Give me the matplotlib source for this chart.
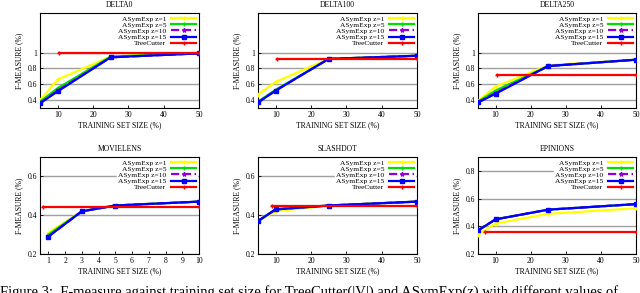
import matplotlib
matplotlib.use('Agg')
import matplotlib.pyplot as plt

plt.rcParams['font.family'] = ['Liberation Serif', 'DejaVu Serif']

# data
titles = ['DELTA0', 'DELTA100', 'DELTA250', 'MOVIELENS', 'SLASHDOT', 'EPINIONS']
labels = ['ASymExp z=1', 'ASymExp z=5', 'ASymExp z=10', 'ASymExp z=15', 'TreeCutter']

x_big = [5, 10, 25, 50]
x_ml = [1, 3, 5, 10]

delta0 = [
    [0.40, 0.66, 0.95, 1.00],
    [0.38, 0.55, 0.95, 0.99],
    [0.36, 0.52, 0.94, 0.99],
    [0.36, 0.51, 0.94, 0.99],
]
delta100 = [
    [0.47, 0.63, 0.92, 0.96],
    [0.38, 0.53, 0.92, 0.96],
    [0.37, 0.52, 0.92, 0.96],
    [0.37, 0.52, 0.92, 0.96],
]
delta250 = [
    [0.39, 0.57, 0.84, 0.91],
    [0.38, 0.52, 0.83, 0.91],
    [0.37, 0.49, 0.83, 0.91],
    [0.37, 0.48, 0.83, 0.91],
]
movielens = [
    [0.31, 0.42, 0.45, 0.47],
    [0.30, 0.42, 0.45, 0.47],
    [0.29, 0.42, 0.45, 0.47],
    [0.29, 0.42, 0.45, 0.47],
]
slashdot = [
    [0.37, 0.42, 0.45, 0.47],
    [0.37, 0.43, 0.45, 0.47],
    [0.37, 0.43, 0.45, 0.47],
    [0.37, 0.43, 0.45, 0.47],
]
epinions = [
    [0.34, 0.42, 0.49, 0.53],
    [0.37, 0.45, 0.52, 0.56],
    [0.37, 0.45, 0.52, 0.56],
    [0.37, 0.45, 0.52, 0.56],
]
tree_val = [1.00, 0.92, 0.72, 0.44, 0.45, 0.36]
tree_start = [10.5, 10.5, 10.5, 0.65, 9, 7]

caption = ('Figure 3:  F-measure against training set size for TreeCutter(|V|) '
           'and ASymExp(z) with different values of')

colors = ['#ffff00', '#00e000', '#9400d3', '#0000ff']
markers = ['+', '+', '*', 's']
styles = ['-', '-', '--', '-']

panels = [
    (delta0, x_big), (delta100, x_big), (delta250, x_big),
    (movielens, x_ml), (slashdot, x_big), (epinions, x_big),
]
ylims = [(0.3, 1.5), (0.3, 1.5), (0.3, 1.5), (0.2, 0.7), (0.2, 0.7), (0.2, 0.9)]
yticks = [[0.4, 0.6, 0.8, 1], [0.4, 0.6, 0.8, 1], [0.4, 0.6, 0.8, 1],
          [0.2, 0.4, 0.6], [0.2, 0.4, 0.6], [0.2, 0.4, 0.6, 0.8]]

fig = plt.figure(figsize=(6.4, 2.93), dpi=100)
W, H = 640, 293
boxes = [(40, 13, 159, 95), (258, 13, 159, 95), (478, 13, 158, 95),
         (40, 157, 159, 97), (258, 157, 159, 97), (478, 157, 158, 97)]

for i, (series, xs) in enumerate(panels):
    bx, by, bw, bh = boxes[i]
    ax = fig.add_axes([bx / W, 1 - (by + bh) / H, bw / W, bh / H])
    for j in range(4):
        ax.plot(xs, series[j], color=colors[j], ls=styles[j], lw=1.6,
                marker=markers[j], ms=3.5 if j == 3 else 3, mew=1,
                label=labels[j], zorder=3)
    ax.plot([tree_start[i], xs[-1]], [tree_val[i], tree_val[i]], color='#ff0000',
            lw=1.6, marker='+', ms=3, label=labels[4], zorder=3)
    if i == 3:
        ax.set_xlim(0.5, 10)
        ax.set_xticks(range(1, 11))
    else:
        ax.set_xlim(5, 50)
        ax.set_xticks([10, 20, 30, 40, 50])
    ax.set_ylim(*ylims[i])
    ax.set_yticks(yticks[i])
    ax.set_yticklabels(['%g' % v for v in yticks[i]])
    ax.yaxis.grid(True, color='#a0a0a0', lw=1)
    ax.set_axisbelow(True)
    ax.tick_params(labelsize=5.5, length=2, width=0.6, direction='in', pad=2)
    for s in ax.spines.values():
        s.set_linewidth(0.8)
    ax.set_title(titles[i], fontsize=5.5, pad=4)
    ax.set_xlabel('TRAINING SET SIZE (%)', fontsize=5.5, labelpad=2)
    ax.set_ylabel('F-MEASURE (%)', fontsize=5.5, labelpad=3)
    leg = ax.legend(loc='upper right', fontsize=5.4, frameon=True, fancybox=False,
                    edgecolor='white', framealpha=1, handlelength=3.4,
                    borderpad=0.1, labelspacing=-0.02, handletextpad=0.6,
                    markerfirst=False, borderaxespad=0.25)
    leg.set_zorder(2.5)

fig.text(0.0, -3 / H, caption, fontsize=10.5, va='baseline', ha='left')

fig.savefig('out.png', dpi=100)
